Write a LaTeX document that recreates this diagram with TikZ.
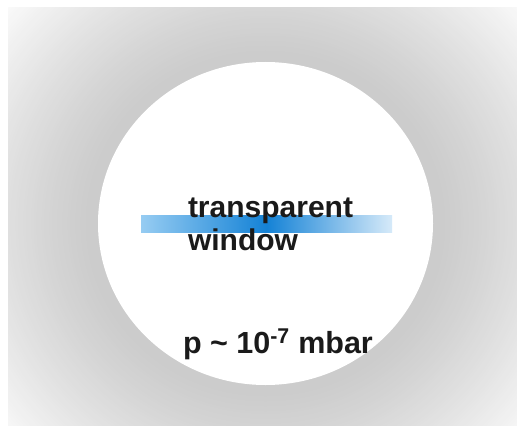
\documentclass[tikz,border=0pt]{standalone}
\usepackage{fontspec}
\setmainfont{Liberation Sans}
\definecolor{barL}{RGB}{150,204,242}
\definecolor{barM}{RGB}{20,130,214}
\definecolor{barR}{RGB}{214,234,249}
\definecolor{ink}{RGB}{26,26,26}
\tikzset{
  lbl/.style={inner sep=0pt, outer sep=0pt, text=ink, font=\bfseries\fontsize{30}{33}\selectfont},
  plbl/.style={inner sep=0pt, outer sep=0pt, text=ink, font=\bfseries\fontsize{30.5}{33}\selectfont}
}
\begin{document}
\begin{tikzpicture}[x=1pt,y=1pt]
\useasboundingbox (0,0) rectangle (518,432);
\fill[white] (0,0) rectangle (518,432);
\begin{scope}
  \clip (8,7) rectangle (516,424);
  \foreach \i in {0,...,70} {
    \pgfmathsetmacro\r{345-175*\i/70}
    \pgfmathsetmacro\t{1-\i/70}
    \pgfmathsetmacro\c{20*(1-\t^1.2)}
    \fill[black!\c!white] (265.5,208.5) ellipse[x radius=\r*1.04, y radius=\r];
  }
\end{scope}
\fill[white] (265.5,208.5) ellipse[x radius=167.5, y radius=161.5];
\shade[left color=barL, right color=barR, middle color=barM] (141,200) rectangle (392,217);
\node[lbl, anchor=base west] (t1) at (188,215) {transparent};
\node[lbl, anchor=base west] (t2) at (188,182) {window};
\node[plbl, anchor=base west] (p) at (183,79) {p \textasciitilde{} 10\textsuperscript{-7} mbar};
\end{tikzpicture}
\end{document}
